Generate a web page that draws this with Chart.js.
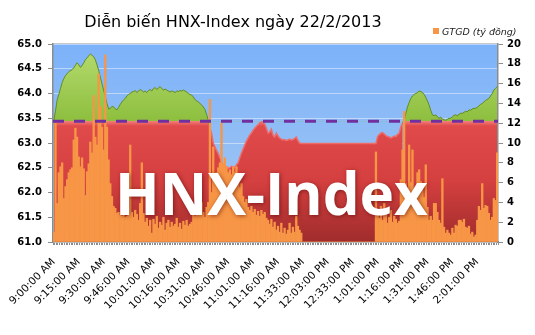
<!DOCTYPE html>
<html>
<head>
<meta charset="utf-8">
<script src="https://cdn.jsdelivr.net/npm/chart.js@4"></script>
<style>
  body { margin: 0; background: #fff; }
</style>
</head>
<body>
<canvas id="myChart" width="535" height="335"></canvas>
<script>
const tickLabels = ["9:00:00 AM", "9:15:00 AM", "9:30:00 AM", "9:46:00 AM", "10:01:00 AM", "10:16:00 AM",
  "10:31:00 AM", "10:46:00 AM", "11:01:00 AM", "11:16:00 AM", "11:33:00 AM", "12:03:00 PM",
  "12:33:00 PM", "1:01:00 PM", "1:16:00 PM", "1:31:00 PM", "1:46:00 PM", "2:01:00 PM"];
const tickEvery = 15;

// HNX-Index, one value per record
const hnxIndex = [
  63.45, 63.65, 63.87, 63.98, 64.10, 64.22, 64.30, 64.36, 64.40, 64.44,
  64.46, 64.48, 64.52, 64.57, 64.62, 64.58, 64.53, 64.56, 64.62, 64.68,
  64.72, 64.76, 64.80, 64.77, 64.74, 64.68, 64.58, 64.47, 64.33, 64.20,
  64.06, 63.94, 63.80, 63.69, 63.70, 63.74, 63.73, 63.69, 63.67, 63.72,
  63.78, 63.83, 63.87, 63.90, 63.95, 63.98, 64.00, 64.03, 64.04, 64.06,
  64.02, 64.05, 64.08, 64.06, 64.03, 64.05, 64.02, 64.06, 64.08, 64.05,
  64.10, 64.12, 64.08, 64.11, 64.14, 64.10, 64.07, 64.09, 64.07, 64.05,
  64.03, 64.05, 64.04, 64.02, 64.05, 64.04, 64.06, 64.05, 64.07, 64.05,
  64.03, 64.00, 63.98, 63.97, 63.93, 63.88, 63.85, 63.83, 63.80, 63.77,
  63.73, 63.68, 63.58, 63.46, 63.30, 63.20, 63.00, 62.93, 62.85, 62.79,
  62.70, 62.64, 62.55, 62.50, 62.52, 62.49, 62.50, 62.53, 62.52, 62.50,
  62.56, 62.60, 62.70, 62.80, 62.88, 62.96, 63.04, 63.10, 63.16, 63.20,
  63.26, 63.30, 63.34, 63.37, 63.41, 63.43, 63.42, 63.38, 63.30, 63.20,
  63.22, 63.28, 63.16, 63.12, 63.20, 63.14, 63.10, 63.08, 63.06, 63.07,
  63.05, 63.06, 63.08, 63.06, 63.07, 63.09, 63.12, 63.05, 63.00, 62.99,
  62.99, 62.99, 62.99, 62.99, 62.99, 62.99, 62.99, 62.99, 62.99, 62.99,
  62.99, 62.99, 62.99, 62.99, 62.99, 62.99, 62.99, 62.99, 62.99, 62.99,
  62.99, 62.99, 62.99, 62.99, 62.99, 62.99, 62.99, 62.99, 62.99, 62.99,
  62.99, 62.99, 62.99, 62.99, 62.99, 62.99, 62.99, 62.99, 62.99, 62.99,
  62.99, 62.99, 62.99, 62.99, 62.99, 63.13, 63.17, 63.20, 63.21, 63.18,
  63.15, 63.13, 63.12, 63.10, 63.12, 63.14, 63.13, 63.17, 63.20, 63.33,
  63.40, 63.46, 63.60, 63.73, 63.82, 63.90, 63.95, 63.98, 64.00, 64.02,
  64.05, 64.04, 64.02, 63.98, 63.92, 63.85, 63.77, 63.66, 63.57, 63.55,
  63.57, 63.53, 63.50, 63.52, 63.49, 63.47, 63.46, 63.48, 63.50, 63.50,
  63.53, 63.56, 63.57, 63.55, 63.58, 63.60, 63.60, 63.62, 63.64, 63.63,
  63.67, 63.66, 63.69, 63.70, 63.70, 63.72, 63.75, 63.78, 63.80, 63.83,
  63.86, 63.88, 63.90, 63.95, 64.00, 64.07, 64.10, 64.14
];

// GTGD (ty dong), one value per record
const volume = [
  1.0, 12.0, 3.9, 7.0, 7.6, 8.0, 4.4, 5.6, 6.3, 7.0,
  7.3, 7.5, 10.3, 11.5, 10.6, 8.6, 7.6, 8.5, 7.4, 4.7,
  7.1, 7.9, 10.1, 9.0, 14.8, 10.6, 9.8, 17.0, 13.7, 11.6,
  9.3, 18.9, 11.6, 8.3, 5.9, 4.6, 3.6, 3.4, 2.9, 3.0,
  2.7, 2.6, 2.9, 2.5, 2.6, 3.6, 9.8, 3.0, 2.5, 3.2,
  2.8, 2.2, 3.9, 8.0, 2.9, 2.0, 2.4, 1.6, 2.2, 0.9,
  2.3, 1.8, 2.6, 1.4, 2.0, 1.7, 2.5, 1.2, 1.9, 2.2,
  1.5, 2.0, 1.6, 1.8, 2.4, 1.5, 1.9, 1.3, 2.1, 1.7,
  2.2, 1.6, 1.8, 2.0, 2.9, 2.6, 3.0, 3.5, 6.0, 4.0,
  3.0, 2.5, 3.5, 4.0, 14.4, 5.0, 9.6, 6.0, 7.0, 7.5,
  8.0, 12.0, 7.9, 8.5, 7.6, 7.0, 7.3, 6.8, 7.6, 7.0,
  7.6, 5.9, 5.5, 5.9, 4.6, 4.0, 4.3, 3.5, 3.2, 3.6,
  3.0, 3.3, 2.7, 3.1, 2.6, 3.2, 2.8, 3.0, 2.4, 2.2,
  1.8, 2.3, 1.5, 2.0, 1.2, 1.6, 1.0, 1.9, 0.9, 1.4,
  0.8, 1.2, 1.9, 0.9, 1.5, 1.0, 2.6, 1.6, 1.2, 0.9,
  0, 0, 0, 0, 0, 0, 0, 0, 0, 0,
  0, 0, 0, 0, 0, 0, 0, 0, 0, 0,
  0, 0, 0, 0, 0, 0, 0, 0, 0, 0,
  0, 0, 0, 0, 0, 0, 0, 0, 0, 0,
  0, 0, 0, 0, 9.1, 3.0, 2.4, 3.6, 2.2, 3.9,
  2.9, 1.9, 2.5, 3.2, 2.0, 2.6, 2.3, 1.9, 2.1, 6.3,
  9.3, 13.2, 5.9, 4.5, 9.8, 6.0, 9.3, 4.5, 4.2, 7.0,
  7.3, 6.1, 5.3, 4.5, 7.8, 3.5, 2.2, 2.6, 2.2, 3.9,
  3.9, 3.0, 2.2, 1.9, 6.4, 1.5, 0.9, 1.2, 0.9, 0.7,
  1.4, 0.9, 1.7, 1.6, 2.2, 2.2, 2.0, 2.3, 1.5, 1.4,
  1.6, 0.8, 1.0, 0.5, 0.7, 2.2, 3.6, 3.2, 5.9, 3.4,
  3.7, 3.6, 2.9, 2.2, 2.5, 4.4, 4.2, 9.0
];

const refLevel = 63.44; // reference (previous close)

const labels = hnxIndex.map((v, i) => (i % tickEvery === 0 ? tickLabels[i / tickEvery] : ""));

function redFill(c) {
  const chart = c.chart;
  const a = chart.chartArea;
  if (!a) return "#d94545";
  const yRef = chart.scales.y.getPixelForValue(refLevel);
  const g = chart.ctx.createLinearGradient(0, yRef, 0, a.bottom);
  g.addColorStop(0, "#f47a7a");
  g.addColorStop(0.04, "#e04a4a");
  g.addColorStop(0.5, "#d43f3f");
  g.addColorStop(1, "#a02c2c");
  return g;
}

function greenFill(c) {
  const chart = c.chart;
  const a = chart.chartArea;
  if (!a) return "#9ccb4c";
  const yRef = chart.scales.y.getPixelForValue(refLevel);
  const g = chart.ctx.createLinearGradient(0, a.top, 0, yRef);
  g.addColorStop(0, "#b8dc72");
  g.addColorStop(1, "#8dbf3e");
  return g;
}

const decor = {
  id: "decor",
  beforeDraw(chart) {
    const { ctx, chartArea: a } = chart;
    const g = ctx.createLinearGradient(0, a.top, 0, a.bottom);
    g.addColorStop(0, "#7cb2fa");
    g.addColorStop(1, "#a8caf0");
    ctx.save();
    ctx.fillStyle = g;
    ctx.fillRect(a.left, a.top, a.right - a.left, a.bottom - a.top);
    ctx.strokeStyle = "#c8c8c8";
    ctx.lineWidth = 1;
    ctx.beginPath();
    ctx.moveTo(a.left, a.top - 0.5);
    ctx.lineTo(a.right, a.top - 0.5);
    ctx.stroke();
    ctx.restore();
  },
  afterDatasetsDraw(chart) {
    const { ctx, chartArea: a, scales } = chart;
    const y = scales.y.getPixelForValue(refLevel);
    ctx.save();
    ctx.strokeStyle = "#7030a0";
    ctx.lineWidth = 3;
    ctx.setLineDash([11, 10]);
    ctx.beginPath();
    ctx.moveTo(a.left, y);
    ctx.lineTo(a.right, y);
    ctx.stroke();
    ctx.setLineDash([]);

    // watermark
    const text = "HNX-Index";
    ctx.font = "bold 60px 'Open Sans'";
    const w = ctx.measureText(text).width;
    const size = 60 * 313 / w;
    ctx.font = "bold " + size + "px 'Open Sans'";
    ctx.fillStyle = "#ffffff";
    ctx.shadowColor = "rgba(80,0,0,0.55)";
    ctx.shadowBlur = 4;
    ctx.shadowOffsetX = 1;
    ctx.shadowOffsetY = 1;
    ctx.textBaseline = "alphabetic";
    ctx.fillText(text, 115, 215);
    ctx.restore();
  },
  afterDraw(chart) {
    const ctx = chart.ctx;
    ctx.save();
    ctx.fillStyle = "#000";
    ctx.font = "16px 'DejaVu Sans'";
    ctx.textAlign = "center";
    ctx.textBaseline = "alphabetic";
    ctx.fillText("Diễn biến HNX-Index ngày 22/2/2013", 233, 27);

    ctx.fillStyle = "#f79646";
    ctx.fillRect(433, 28, 6, 6);
    ctx.fillStyle = "#222";
    ctx.font = "italic 9.5px 'DejaVu Sans'";
    ctx.textAlign = "left";
    ctx.fillText(chart.data.datasets[0].label, 442, 34.5);
    ctx.restore();
  }
};

const aboveRef = (c) => c.p0.parsed.y > refLevel || c.p1.parsed.y > refLevel;

new Chart(document.getElementById("myChart"), {
  type: "bar",
  data: {
    labels: labels,
    datasets: [
      {
        type: "bar",
        label: "GTGD (tỷ đồng)",
        data: volume,
        yAxisID: "y1",
        backgroundColor: "#f79646",
        barPercentage: 1,
        categoryPercentage: 1,
        order: 0,
      },
      {
        type: "line",
        label: "HNX-Index",
        data: hnxIndex,
        yAxisID: "y",
        fill: { target: { value: refLevel }, below: "rgba(0,0,0,0)" },
        backgroundColor: greenFill,
        borderColor: "#5e8e24",
        borderWidth: 1,
        pointRadius: 0,
        segment: { borderColor: (c) => (aboveRef(c) ? "#5e8e24" : "rgba(0,0,0,0)") },
        order: 1,
      },
      {
        type: "line",
        label: "HNX-Index (base)",
        data: hnxIndex,
        yAxisID: "y",
        fill: "start",
        backgroundColor: redFill,
        borderColor: "#ee6c6c",
        borderWidth: 1.5,
        pointRadius: 0,
        segment: { borderColor: (c) => (aboveRef(c) ? "rgba(0,0,0,0)" : "#ee6c6c") },
        order: 2,
      },
    ],
  },
  options: {
    responsive: false,
    animation: false,
    layout: { padding: { top: 44, left: 0, right: 0, bottom: 0 } },
    plugins: {
      legend: { display: false },
      title: { display: false },
      tooltip: { enabled: false },
    },
    scales: {
      x: {
        offset: true,
        grid: { display: true, drawOnChartArea: false, tickLength: 3, tickColor: "#8c8c8c" },
        border: { color: "#8c8c8c", width: 1.5 },
        ticks: {
          autoSkip: false,
          maxRotation: 45,
          minRotation: 45,
          padding: 11,
          color: "#000",
          font: { family: "DejaVu Sans", size: 10.5 },
        },
        afterFit(s) { s.height = 93; },
      },
      y: {
        position: "left",
        min: 61,
        max: 65,
        ticks: {
          stepSize: 0.5,
          callback: (v) => v.toFixed(1),
          color: "#000",
          padding: 6,
          font: { family: "DejaVu Sans", size: 10, weight: "bold" },
        },
        grid: { color: "rgba(255,255,255,0.45)", tickColor: "#8c8c8c", tickLength: 5 },
        border: { color: "#8c8c8c", width: 1.5 },
        afterFit(s) { s.width = 53; },
      },
      y1: {
        position: "right",
        min: 0,
        max: 20,
        ticks: {
          stepSize: 2,
          color: "#000",
          padding: 4,
          font: { family: "DejaVu Sans", size: 10, weight: "bold" },
        },
        grid: { drawOnChartArea: false, tickColor: "#8c8c8c", tickLength: 5 },
        border: { color: "#8c8c8c", width: 1.5 },
        afterFit(s) { s.width = 37; },
      },
    },
  },
  plugins: [decor],
});
</script>
</body>
</html>
